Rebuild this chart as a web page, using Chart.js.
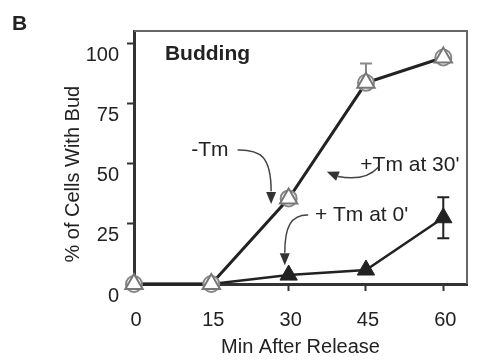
<!DOCTYPE html>
<html>
<head>
<meta charset="utf-8">
<script src="https://cdn.jsdelivr.net/npm/chart.js@4.4.1/dist/chart.umd.min.js"></script>
<style>
  body { margin: 0; background: #fff; }
  #wrap { width: 479px; height: 360px; position: relative; }
</style>
</head>
<body>
<div id="wrap"><canvas id="myChart"></canvas></div>
<script>
// data
const minutes = [0, 15, 30, 45, 60];
const noTm = [0, 0, 35.5, 83.5, 94];
const tmAt30 = [0, 0, 35.5, 83.5, 94];
const tmAt0 = [0, 0, 3.7, 5.8, 27.5];
const noTmErrUp = [0, 0, 0, 8, 0];
const noTmErrDown = [0, 0, 0, 0, 0];
const tmAt0Err = [0, 0, 0, 0, 8.5];
const xTicks = [0, 15, 30, 45, 60];
const yTicks = [0, 25, 50, 75, 100];

const toPts = (vals) => vals.map((v, i) => ({ x: minutes[i], y: v }));
const fontFam = "'Liberation Sans', Arial, sans-serif";

// error bars, drawn under the markers
const errorBars = {
  id: 'errorBars',
  beforeDatasetsDraw(chart) {
    const ctx = chart.ctx;
    const xs = chart.scales.x, ys = chart.scales.y;
    const sets = [[noTm, noTmErrUp, noTmErrDown, '#888'], [tmAt0, tmAt0Err, tmAt0Err, '#222']];
    ctx.save();
    ctx.lineWidth = 2;
    sets.forEach(([vals, up, down, col]) => {
      ctx.strokeStyle = col;
      vals.forEach((v, i) => {
        const x = xs.getPixelForValue(minutes[i]);
        const y0 = ys.getPixelForValue(v);
        ctx.beginPath();
        if (up[i]) {
          const y1 = ys.getPixelForValue(v + up[i]);
          ctx.moveTo(x, y0); ctx.lineTo(x, y1);
          ctx.moveTo(x - 6, y1); ctx.lineTo(x + 6, y1);
        }
        if (down[i]) {
          const y2 = ys.getPixelForValue(v - down[i]);
          ctx.moveTo(x, y0); ctx.lineTo(x, y2);
          ctx.moveTo(x - 6, y2); ctx.lineTo(x + 6, y2);
        }
        ctx.stroke();
      });
    });
    ctx.restore();
  }
};

// frame, labels and arrows
const annotations = {
  id: 'annotations',
  afterDraw(chart) {
    const ctx = chart.ctx;
    const xs = chart.scales.x, ys = chart.scales.y;
    const px = (x) => xs.getPixelForValue(x);
    const py = (y) => ys.getPixelForValue(y);
    const a = chart.chartArea;
    ctx.save();
    ctx.strokeStyle = '#666';
    ctx.lineWidth = 2;
    ctx.beginPath();
    ctx.moveTo(a.left, a.top);
    ctx.lineTo(a.right, a.top);
    ctx.lineTo(a.right, a.bottom);
    ctx.stroke();

    ctx.fillStyle = '#222';
    ctx.textBaseline = 'middle';
    ctx.textAlign = 'left';
    ctx.font = 'bold 21px ' + fontFam;
    ctx.fillText('B', 12, 24);
    ctx.fillText('Budding', px(6), py(95.5));

    ctx.font = '21px ' + fontFam;
    ctx.fillText('-Tm', px(11.1), py(55.6));
    ctx.fillText("+Tm at 30'", px(43.9), py(49.4));
    ctx.fillText("+ Tm at 0'", px(35.1), py(28.6));

    const head = (fx, fy, tx, ty) => {
      const ang = Math.atan2(ty - fy, tx - fx);
      ctx.beginPath();
      ctx.moveTo(tx, ty);
      ctx.lineTo(tx - 12 * Math.cos(ang) + 5 * Math.sin(ang), ty - 12 * Math.sin(ang) - 5 * Math.cos(ang));
      ctx.lineTo(tx - 12 * Math.cos(ang) - 5 * Math.sin(ang), ty - 12 * Math.sin(ang) + 5 * Math.cos(ang));
      ctx.closePath();
      ctx.fill();
    };
    ctx.strokeStyle = '#444';
    ctx.fillStyle = '#333';
    ctx.lineWidth = 1.5;

    // -Tm
    ctx.beginPath();
    ctx.moveTo(px(20.1), py(55.6));
    ctx.bezierCurveTo(px(24.5), py(55.8), px(26.6), py(53), px(26.6), py(38.5));
    ctx.stroke();
    head(px(26.6), py(38.5), px(26.6), py(33.2));

    // +Tm at 30'
    ctx.beginPath();
    ctx.moveTo(px(47.4), py(48.5));
    ctx.quadraticCurveTo(px(44.8), py(42.5), px(39.6), py(44.6));
    ctx.stroke();
    head(px(40.2), py(44.2), px(37.4), py(46.6));

    // + Tm at 0'
    ctx.beginPath();
    ctx.moveTo(px(33.8), py(28.6));
    ctx.bezierCurveTo(px(30.4), py(28.8), px(29.25), py(23.5), px(29.25), py(13));
    ctx.stroke();
    head(px(29.25), py(13), px(29.25), py(7.8));
    ctx.restore();
  }
};

Chart.defaults.font.family = fontFam;
Chart.defaults.color = '#222';

const ctx = document.getElementById('myChart').getContext('2d');
new Chart(ctx, {
  type: 'scatter',
  data: {
    datasets: [
      {
        label: "+Tm at 30'",
        data: toPts(tmAt30),
        showLine: false,
        pointStyle: 'triangle',
        pointRadius: 10,
        pointBackgroundColor: '#fff',
        pointBorderColor: '#777',
        pointBorderWidth: 2,
        clip: false,
        order: 0
      },
      {
        label: '-Tm',
        data: toPts(noTm),
        showLine: true,
        borderColor: '#222',
        borderWidth: 3,
        pointStyle: 'circle',
        pointRadius: 8,
        pointBackgroundColor: '#fff',
        pointBorderColor: '#888',
        pointBorderWidth: 2,
        clip: false,
        order: 1
      },
      {
        label: "+ Tm at 0'",
        data: toPts(tmAt0),
        showLine: true,
        borderColor: '#222',
        borderWidth: 2.5,
        pointStyle: 'triangle',
        pointRadius: 10,
        pointBackgroundColor: '#222',
        pointBorderColor: '#222',
        pointBorderWidth: 1,
        clip: false,
        order: 2
      }
    ]
  },
  options: {
    responsive: true,
    maintainAspectRatio: false,
    animation: false,
    layout: { padding: { top: 31, right: 1, left: 0, bottom: 0 } },
    plugins: { legend: { display: false }, tooltip: { enabled: false } },
    scales: {
      x: {
        type: 'linear',
        min: 0,
        max: 64.6,
        afterBuildTicks: (s) => { s.ticks = xTicks.map(v => ({ value: v })); },
        afterFit: (s) => { s.height = 76; },
        grid: { drawOnChartArea: false, tickLength: 7, tickColor: '#333', tickWidth: 2 },
        border: { color: '#333', width: 3 },
        ticks: { font: { size: 20 }, padding: 17, labelOffset: 2, color: '#222' },
        title: { display: true, text: 'Min After Release', font: { size: 20 }, padding: { top: 0, bottom: 1 }, color: '#222' }
      },
      y: {
        min: 0,
        max: 105,
        afterBuildTicks: (s) => { s.ticks = yTicks.map(v => ({ value: v })); },
        afterFit: (s) => { s.width = 134; },
        grid: { drawOnChartArea: false, tickLength: 7, tickColor: '#333', tickWidth: 2 },
        border: { color: '#333', width: 3 },
        ticks: { font: { size: 20 }, padding: 8, labelOffset: 12, color: '#222' },
        title: { display: true, text: '% of Cells With Bud      ', font: { size: 20 }, padding: { top: 61, bottom: 0 }, color: '#222' }
      }
    }
  },
  plugins: [errorBars, annotations]
});
</script>
</body>
</html>
